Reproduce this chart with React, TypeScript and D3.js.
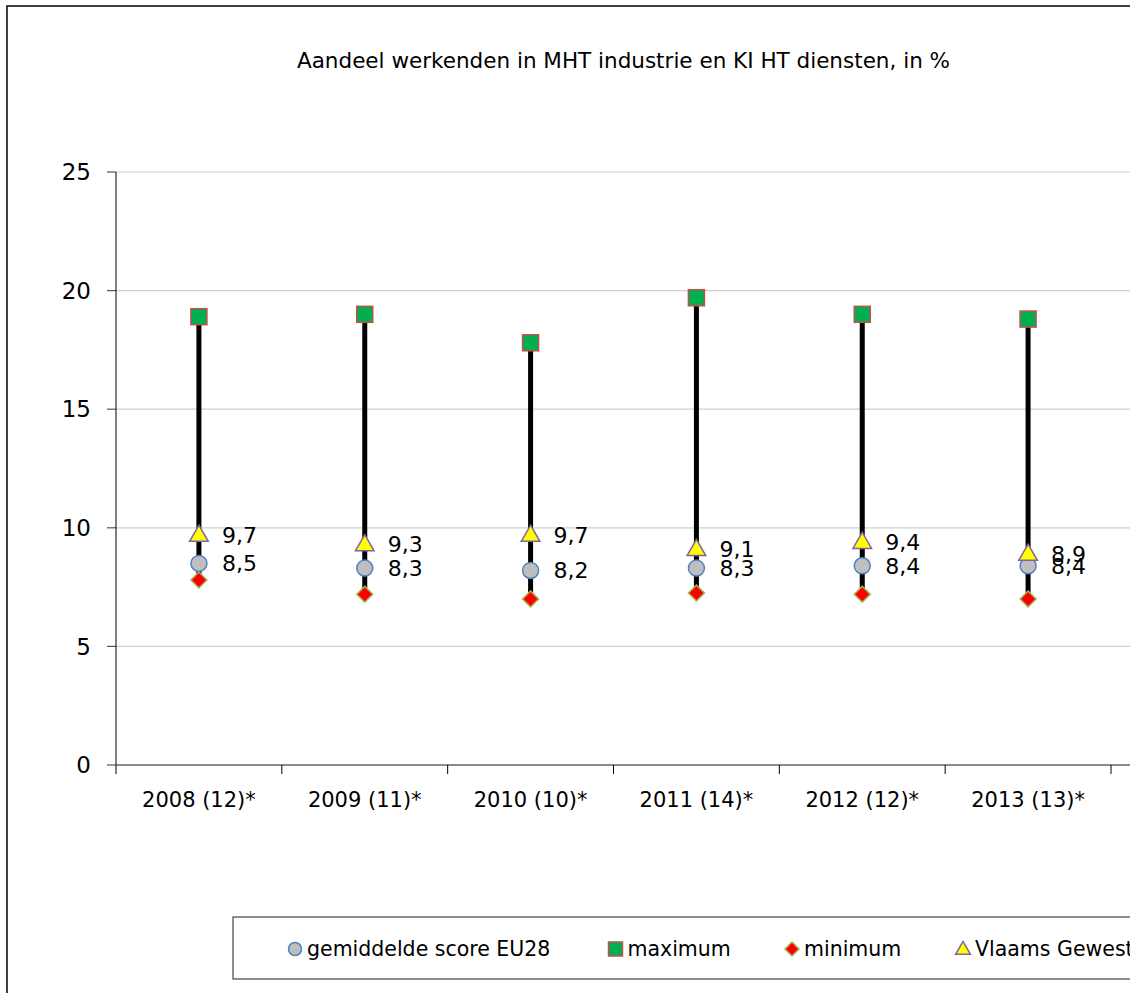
import React from "react";
import * as d3 from "d3";

const categories = ["2008 (12)*", "2009 (11)*", "2010 (10)*", "2011 (14)*", "2012 (12)*", "2013 (13)*"];
const avgEU28 = [8.5, 8.3, 8.2, 8.3, 8.4, 8.4];
const maximum = [18.9, 19.0, 17.8, 19.7, 19.0, 18.8];
const minimum = [7.8, 7.2, 7.0, 7.25, 7.2, 7.0];
const vlaams = [9.7, 9.3, 9.7, 9.1, 9.4, 8.9];
const yTicks = [0, 5, 10, 15, 20, 25];
const title = "Aandeel werkenden in MHT industrie en KI HT diensten, in %";
const legendLabels = ["gemiddelde score EU28", "maximum", "minimum", "Vlaams Gewest"];

const FONT = "Tahoma, 'DejaVu Sans', Verdana, sans-serif";

export default function App() {
  const W = 1130, H = 993;
  const left = 116, right = 1111, top = 172, bottom = 765;
  const x = d3.scaleBand<string>().domain(categories).range([left, right]).padding(0);
  const y = d3.scaleLinear().domain([0, 25]).range([bottom, top]);
  const cx = (i: number) => (x(categories[i]) as number) + x.bandwidth() / 2;
  const fmt = (v: number) => d3.format(".1f")(v).replace(".", ",");
  const tri = d3.symbol().type(d3.symbolTriangle).size(150)();
  const dia = (s: number) => `M0,${-s}L${s},0L0,${s}L${-s},0Z`;
  const boundaries = categories.map((c) => x(c) as number).concat([right]);
  const legendX = [295, 615.5, 792, 963];
  const ly = 949;

  return (
    <svg width={W} height={H} style={{ position: "absolute", left: 0, top: 0, background: "#fff" }} fontFamily={FONT}>
      <rect x={0} y={0} width={W} height={H} fill="#fff" />
      <rect x={7} y={6} width={W + 20} height={H + 20} fill="none" stroke="#000" strokeWidth={1.5} />
      <text x={623.5} y={60} dy="0.35em" textAnchor="middle" fontSize={21.5} fill="#000">{title}</text>

      {yTicks.filter((t) => t > 0).map((t) => (
        <line key={"g" + t} x1={left} x2={W} y1={y(t)} y2={y(t)} stroke="#d0d0d0" strokeWidth={1.2} />
      ))}
      {yTicks.map((t) => (
        <g key={"yt" + t}>
          <line x1={107} x2={left} y1={y(t)} y2={y(t)} stroke="#555" strokeWidth={1.2} />
          <text x={91} y={y(t)} dy="0.36em" textAnchor="end" fontSize={23} fill="#000">{t}</text>
        </g>
      ))}
      <line x1={left} x2={left} y1={top} y2={bottom} stroke="#000" strokeWidth={1} />
      <line x1={left} x2={W} y1={bottom} y2={bottom} stroke="#666" strokeWidth={1.5} />
      {boundaries.map((b, i) => (
        <line key={"xt" + i} x1={b} x2={b} y1={bottom} y2={bottom + 9} stroke="#000" strokeWidth={1} />
      ))}
      {categories.map((c, i) => (
        <text key={c} x={cx(i)} y={800} dy="0.35em" textAnchor="middle" fontSize={21} fill="#000">{c}</text>
      ))}

      {categories.map((c, i) => (
        <g key={"s" + c}>
          <line x1={cx(i)} x2={cx(i)} y1={y(minimum[i])} y2={y(maximum[i])} stroke="#000" strokeWidth={5} />
          <rect x={cx(i) - 8} y={y(maximum[i]) - 8} width={16} height={16} fill="#00B050" stroke="#C0504D" strokeWidth={1.5} />
          <path d={dia(8)} transform={`translate(${cx(i)},${y(minimum[i])})`} fill="#FF0000" stroke="#9BBB59" strokeWidth={1.5} />
          <circle cx={cx(i)} cy={y(avgEU28[i])} r={8} fill="#BFBFBF" stroke="#4F81BD" strokeWidth={1.5} />
          <path d={tri as string} transform={`translate(${cx(i)},${y(vlaams[i]) + 1})`} fill="#FFFF00" stroke="#8064A2" strokeWidth={1.5} />
          <text x={cx(i) + 23} y={y(vlaams[i])} dy="0.36em" fontSize={22} fill="#000">{fmt(vlaams[i])}</text>
          <text x={cx(i) + 23} y={y(avgEU28[i])} dy="0.36em" fontSize={22} fill="#000">{fmt(avgEU28[i])}</text>
        </g>
      ))}

      <rect x={233} y={917} width={W} height={62} fill="#fff" stroke="#444" strokeWidth={1.2} />
      <circle cx={legendX[0]} cy={ly} r={6.5} fill="#BFBFBF" stroke="#4F81BD" strokeWidth={1.5} />
      <rect x={legendX[1] - 7} y={ly - 7} width={14} height={14} fill="#00B050" stroke="#C0504D" strokeWidth={1.5} />
      <path d={dia(7)} transform={`translate(${legendX[2]},${ly})`} fill="#FF0000" stroke="#9BBB59" strokeWidth={1.5} />
      <path d={d3.symbol().type(d3.symbolTriangle).size(95)() as string} transform={`translate(${legendX[3]},${ly + 1})`} fill="#FFFF00" stroke="#8064A2" strokeWidth={1.5} />
      {legendLabels.map((l, i) => (
        <text key={l} x={legendX[i] + 12} y={ly} dy="0.36em" fontSize={20.5} fill="#000">{l}</text>
      ))}
    </svg>
  );
}
